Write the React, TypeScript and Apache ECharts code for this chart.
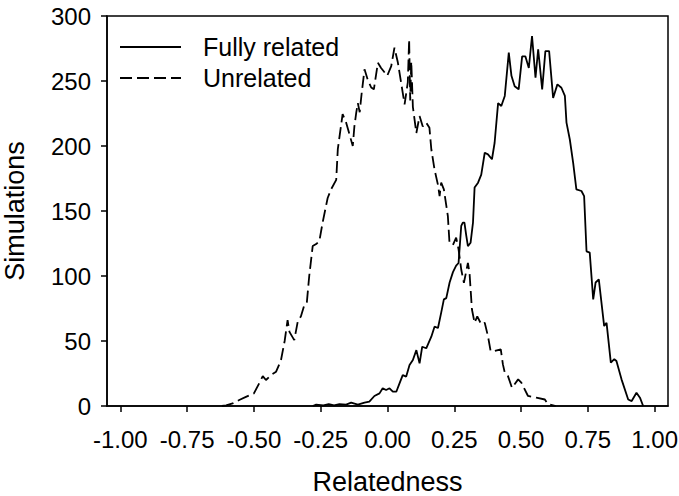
import React, { useEffect, useRef } from "react";
import * as echarts from "echarts";

const xTicks = [-1, -0.75, -0.5, -0.25, 0, 0.25, 0.5, 0.75, 1];
const seriesNames = ["Fully related", "Unrelated"];

// Unrelated (dashed)
const unrelatedX = [
  -0.62, -0.604, -0.58, -0.555, -0.53, -0.5, -0.48, -0.467, -0.455, -0.435, -0.417, -0.399, -0.385, -0.374, -0.367,
  -0.349, -0.336, -0.324, -0.311, -0.302, -0.293, -0.28, -0.267, -0.255, -0.243, -0.224, -0.211, -0.192, -0.186,
  -0.168, -0.155, -0.148, -0.13, -0.124, -0.117, -0.111, -0.104, -0.097, -0.086, -0.074, -0.061, -0.051, -0.036,
  -0.024, -0.001, 0.014, 0.026, 0.039, 0.051, 0.064, 0.076, 0.081, 0.085, 0.089, 0.095, 0.108, 0.12, 0.132, 0.145,
  0.157, 0.164, 0.176, 0.189, 0.195, 0.201, 0.211, 0.226, 0.232, 0.245, 0.257, 0.266, 0.276, 0.286, 0.301, 0.307,
  0.316, 0.326, 0.336, 0.351, 0.364, 0.376, 0.386, 0.401, 0.424, 0.432, 0.439, 0.451, 0.466, 0.489, 0.501, 0.526,
  0.557, 0.589, 0.601, 0.62, 0.63,
];
const unrelatedY = [
  0, 0.5, 2, 4.6, 7, 9.7, 17.6, 23, 20, 24, 26.4, 35, 50, 66, 57,
  50.7, 65, 69, 78, 79.5, 100, 123, 124.6, 127, 141, 160, 166.7, 174, 197.6,
  224.6, 218, 213, 200, 215, 225.6, 233, 226, 240, 259, 251, 245, 243.6, 264,
  260, 254, 261.5, 275.6, 264, 248.7, 232, 249, 282, 235, 265, 230, 210, 223, 215, 218,
  214, 197.5, 182, 170, 161.5, 171.8, 166.7, 146, 125.6, 124, 129.5, 120.5, 105, 94.8, 110, 102.5,
  74.4, 64, 69, 62.8, 64, 53.8, 42.3, 42.3, 43.6, 32, 25.6, 23, 14, 20.5, 18, 7.7,
  6.4, 5, 1.3, 0.5, 0,
];

// Fully related (solid)
const fullyX = [
  -0.28, -0.267, -0.24, -0.22, -0.2, -0.18, -0.155, -0.136, -0.111, -0.086, -0.068, -0.049, -0.03, -0.018, -0.005,
  0.0075, 0.02, 0.033, 0.045, 0.057, 0.07, 0.0825, 0.095, 0.108, 0.12, 0.13, 0.145, 0.164, 0.176, 0.189, 0.201,
  0.211, 0.22, 0.2325, 0.245, 0.257, 0.266, 0.276, 0.282, 0.288, 0.295, 0.301, 0.311, 0.32, 0.326, 0.339, 0.351,
  0.364, 0.376, 0.391, 0.401, 0.414, 0.426, 0.439, 0.454, 0.464, 0.476, 0.491, 0.504, 0.516, 0.529, 0.541, 0.554,
  0.564, 0.579, 0.591, 0.605, 0.62, 0.636, 0.651, 0.664, 0.67, 0.6825, 0.695, 0.707, 0.726, 0.736, 0.745, 0.757,
  0.77, 0.779, 0.791, 0.811, 0.82, 0.836, 0.849, 0.857, 0.876, 0.901, 0.914, 0.932, 0.945, 0.957,
];
const fullyY = [
  0, 1, 0.5, 1.5, 0.5, 1.5, 1, 2.6, 1, 2.6, 3.3, 7.7, 9.7, 13.6, 12.3,
  13.6, 11, 11, 17.4, 23.8, 22.6, 31.5, 35.4, 43, 32.8, 45.6, 44.4, 53.3, 61, 60, 71.8,
  82, 83, 95, 103, 108, 110, 138.5, 141, 141, 130.8, 123, 125.6, 141, 168, 171.8, 178,
  194.8, 193.6, 189.8, 202.5, 233, 230.8, 238.5, 271.8, 254, 246, 243.6, 269, 269, 260, 284.6, 252.5,
  274.4, 243.6, 273, 273, 237, 247.4, 244.8, 238.5, 218, 205, 187, 166.7, 165.4, 161.5, 119, 118,
  82, 95, 97.4, 61.5, 64, 33.3, 36, 34.6, 20.5, 5, 3.8, 10.2, 6.4, 0,
];

const FONT = "'Liberation Sans', Arial, Helvetica, sans-serif";

export default function App() {
  const ref = useRef<HTMLDivElement>(null);
  useEffect(() => {
    document.body.style.margin = "0";
    const chart = echarts.init(ref.current!, null, { renderer: "svg" });
    const fullyData = fullyX.map((x, i) => [x, fullyY[i]]);
    const unrelatedData = unrelatedX.map((x, i) => [x, unrelatedY[i]]);
    chart.setOption({
      animation: false,
      backgroundColor: "#fff",
      textStyle: { fontFamily: FONT, color: "#000" },
      grid: {
        left: 107,
        right: 11,
        top: 16,
        bottom: 90,
        outerBoundsMode: "none",
        containLabel: false,
        show: true,
        borderColor: "#000",
        borderWidth: 1.5,
        backgroundColor: "transparent",
      },
      legend: {
        data: seriesNames,
        orient: "vertical",
        left: 114,
        top: 29,
        itemWidth: 61,
        itemHeight: 14,
        itemGap: 5,
        itemStyle: { opacity: 0, color: "transparent", borderWidth: 0 },
        textStyle: {
          fontFamily: FONT,
          fontSize: 25,
          lineHeight: 26,
          color: "#000",
          padding: [0, 0, 0, 17],
        },
      },
      xAxis: {
        type: "value",
        min: -1.05,
        max: 1.05,
        name: "Relatedness",
        nameLocation: "middle",
        nameGap: 62,
        nameTextStyle: { fontFamily: FONT, fontSize: 27, color: "#000" },
        axisLine: { show: true, onZero: false, lineStyle: { color: "#000", width: 1.5 } },
        axisTick: { show: true, customValues: xTicks, length: 6, lineStyle: { color: "#000", width: 1.5 } },
        axisLabel: {
          customValues: xTicks,
          formatter: (v: number) => v.toFixed(2),
          fontFamily: FONT,
          fontSize: 24,
          color: "#000",
          margin: 21,
        },
        splitLine: { show: false },
      },
      yAxis: {
        type: "value",
        min: 0,
        max: 300,
        interval: 50,
        name: "Simulations",
        nameLocation: "middle",
        nameRotate: 90,
        nameGap: 79,
        nameTextStyle: { fontFamily: FONT, fontSize: 27, color: "#000" },
        axisLine: { show: true, onZero: false, lineStyle: { color: "#000", width: 1.5 } },
        axisTick: { show: true, length: 6, lineStyle: { color: "#000", width: 1.5 } },
        axisLabel: { fontFamily: FONT, fontSize: 24, color: "#000", margin: 16 },
        splitLine: { show: false },
      },
      series: [
        {
          name: seriesNames[0],
          type: "line",
          data: fullyData,
          symbol: "none",
          showSymbol: false,
          lineStyle: { color: "#000", width: 1.8 },
          itemStyle: { color: "#000" },
        },
        {
          name: seriesNames[1],
          type: "line",
          data: unrelatedData,
          symbol: "none",
          showSymbol: false,
          lineStyle: { color: "#000", width: 1.8, type: [12, 5] },
          itemStyle: { color: "#000" },
        },
      ],
    });
    return () => chart.dispose();
  }, []);
  return <div ref={ref} style={{ width: 679, height: 496 }} />;
}
